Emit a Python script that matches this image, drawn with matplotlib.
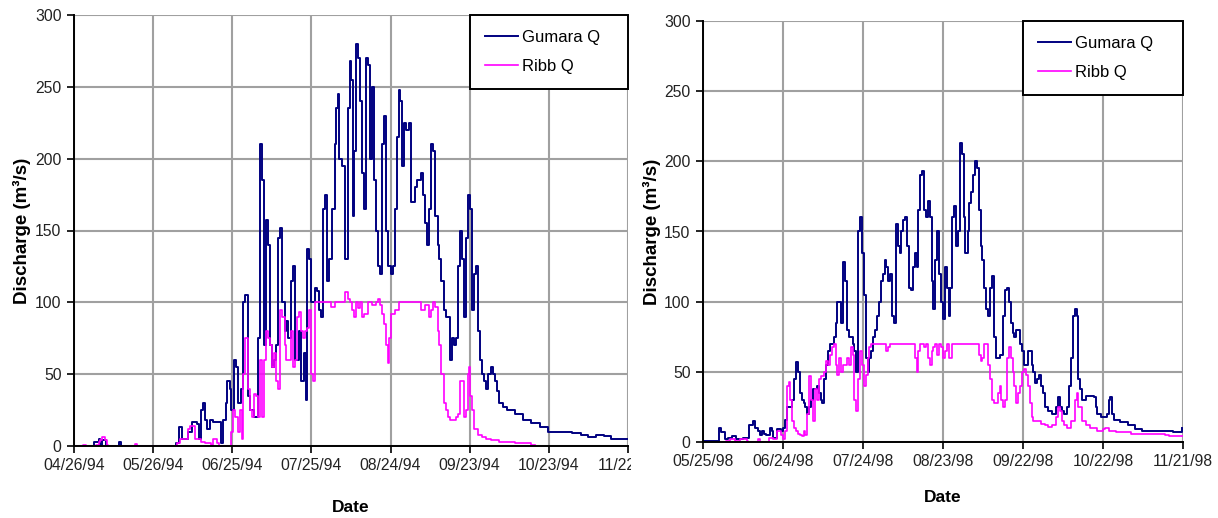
import matplotlib
matplotlib.use("Agg")
import matplotlib.pyplot as plt
from matplotlib.transforms import Bbox, TransformedBbox

plt.rcParams['font.family'] = ['Liberation Sans', 'DejaVu Sans']

# ---------------- 1994 panel (days after 04/26/94) ----------------
ticks_94 = [0, 30, 60, 90, 120, 150, 180, 210]
ticklabels_94 = ["04/26/94", "05/26/94", "06/25/94", "07/25/94", "08/24/94",
                 "09/23/94", "10/23/94", "11/22/94"]

gumara94_day = [0, 7, 7.7, 9.3, 10, 10.8, 12, 16, 17, 18, 37, 38.7, 39.8, 41, 43.3, 44.9, 46.5,
                47.5, 48, 48.8, 49.5, 50.5, 51.4, 52.6, 54.2, 55.7, 56.5, 57.5, 58, 59, 59.6,
                60.7, 61.5, 62.2, 63.2, 64.2, 65, 65.8, 66.9, 68.1, 69.7, 70.4, 71.2, 72, 72.8,
                73.5, 74.3, 75.1, 75.9, 76.6, 77.4, 78.2, 79, 79.8, 80.5, 81.3, 82.1, 82.9, 83.7,
                85.3, 86, 87, 87.9, 88.5, 89.2, 89.8, 90.6, 91.4, 92.1, 92.9, 93.7, 94.4, 95.2,
                96, 96.7, 97.8, 98.8, 99.4, 100, 100.6, 101.4, 102.2, 102.9, 103.7, 104.5, 104.9,
                105.6, 106.2, 106.8, 107.6, 108.4, 109.1, 109.9, 110.7, 111.5, 112.2, 113, 113.8,
                114.6, 115.3, 116.1, 116.9, 117.6, 118.4, 119.2, 120.3, 121.1, 121.8, 122.6,
                123.1, 123.5, 124.3, 125.1, 125.9, 127, 127.7, 128.5, 129.3, 130, 131.6, 132.4,
                133.1, 133.9, 134.7, 135.4, 136.2, 137, 137.8, 138.5, 139.3, 140.1, 140.9, 141.6,
                142.4, 143.2, 144, 144.7, 145.5, 146.3, 147.1, 147.8, 148.6, 149.4, 150.2, 150.9,
                151.7, 152.2, 153, 154, 154.8, 155.6, 156.3, 157.1, 157.9, 158.7, 159.4, 160.2,
                161, 162.5, 164, 167.2, 170.3, 173.4, 176.5, 179.6, 182.7, 185.8, 188.9, 192,
                195, 198, 201, 203.4, 210]
gumara94_q = [0, 0, 3, 5, 1, 4, 0, 0, 3, 0, 0, 2, 13, 5, 10, 17, 15,
              5, 25, 30, 18, 12, 18, 17, 17, 2, 18, 30, 45, 40, 25,
              60, 55, 30, 40, 100, 105, 35, 25, 20, 75, 210, 185, 70, 157,
              140, 70, 55, 60, 70, 145, 152, 100, 80, 87, 75, 115, 125, 60,
              80, 45, 65, 32, 137, 130, 100, 100, 110, 108, 95, 90, 165, 175,
              115, 130, 165, 210, 235, 245, 200, 195, 195, 130, 235, 268, 255,
              160, 205, 280, 270, 240, 190, 165, 270, 265, 200, 250, 185,
              150, 125, 120, 210, 230, 150, 125, 120, 125, 165, 215,
              248, 240, 195, 225, 220, 225, 170, 170, 180, 185, 190, 175,
              155, 140, 165, 210, 205, 160, 140, 130, 115, 95, 90, 90,
              60, 75, 70, 75, 125, 150, 130, 90, 145, 175, 165, 95,
              120, 125, 80, 60, 50, 45, 40, 50, 55, 50, 45, 38,
              30, 27, 25, 22, 18, 16, 13, 10, 10, 10, 9, 8,
              6, 8, 7, 5, 5]

ribb94_day = [0, 3.5, 4.5, 8.5, 9.3, 10, 10.8, 11.6, 12.4, 13, 22, 23, 24, 38.7, 39, 40.3, 43.3,
              44.1, 45.7, 48, 49.5, 51.9, 52.6, 54.2, 55, 58.8, 59.6, 60.4, 61.2, 62, 62.8,
              63.5, 64.2, 65, 65.8, 66.6, 67.4, 68.1, 68.9, 69.7, 70.4, 71.2, 72, 72.8, 73.5,
              74.3, 75.1, 75.9, 76.6, 77.4, 78.2, 79, 79.8, 80.5, 81.3, 82.1, 82.9, 83.7, 84.4,
              85.2, 86, 86.8, 87.6, 88.2, 89, 89.8, 90.6, 91.4, 92.9, 94.4, 96, 97.5, 99,
              102.2, 102.9, 103.7, 104.5, 105.3, 106, 106.8, 107.6, 108.4, 109.1, 109.9, 111.5,
              113, 114.6, 115.3, 116.1, 116.9, 117.6, 118.4, 118.9, 119.5, 120.3, 121.5, 123.1,
              127, 130.8, 131.6, 133.1, 134.7, 135.4, 136.2, 137, 137.8, 138.5, 139.3, 140.1,
              140.9, 141.6, 142.4, 144, 144.7, 145.5, 146.3, 147.1, 147.8, 148.6, 149.4, 149.8,
              150.2, 150.9, 151.7, 153.3, 154.8, 156.3, 157.9, 161, 167.2, 173.4, 174.9]
ribb94_q = [0, 1, 0, 1, 3, 4, 6, 4, 1, 0, 0, 1.5, 0, 0, 2, 5, 12,
            14, 5, 3, 2, 1, 5, 2, 0, 0, 10, 25, 20, 10, 25,
            5, 50, 75, 40, 25, 20, 36, 35, 20, 60, 20, 60, 80, 75,
            70, 55, 65, 45, 40, 95, 90, 70, 60, 60, 80, 55, 60, 90,
            93, 80, 75, 80, 82, 95, 50, 45, 100, 100, 100, 100, 97, 100,
            100, 107, 102, 100, 95, 90, 100, 96, 100, 90, 92, 100,
            98, 100, 102, 98, 92, 85, 70, 58, 75, 92, 95, 100,
            100, 100, 95, 98, 90, 95, 100, 97, 80, 70, 50, 30,
            25, 20, 18, 18, 20, 22, 45, 45, 20, 25, 50, 55,
            35, 25, 12, 8, 6, 5, 4, 3, 2, 1, 1]

# ---------------- 1998 panel (days after 05/25/98) ----------------
ticks_98 = [0, 30, 60, 90, 120, 150, 180]
ticklabels_98 = ["05/25/98", "06/24/98", "07/24/98", "08/23/98", "09/22/98",
                 "10/22/98", "11/21/98"]

gumara98_day = [0, 4.5, 5.9, 6.6, 8.1, 9.5, 10.9, 12.3, 15.1, 16.5, 17.2, 18.6, 19.4, 20.8, 21.5,
                22.2, 22.9, 23.6, 25, 25.7, 26.4, 27.8, 29.2, 29.9, 30.6, 31.4, 32.1, 32.8, 33.5,
                34.2, 34.9, 35.6, 36.3, 37, 37.7, 38.4, 39.1, 39.8, 40.5, 41.2, 41.9, 42.7, 43.4,
                44.1, 44.8, 45.5, 46.2, 46.9, 47.6, 49, 49.7, 50.4, 51.1, 51.8, 52.5, 53.2, 54,
                54.7, 55.4, 56.1, 56.8, 57.5, 58.2, 58.9, 59.6, 60.3, 61, 61.7, 62.4, 63.1, 63.8,
                64.5, 65.3, 66, 66.7, 67.4, 68.1, 68.8, 69.5, 70.2, 70.9, 71.6, 72.3, 73, 73.7,
                74.4, 75.1, 75.8, 76.6, 77.3, 78, 78.7, 79.4, 80.1, 80.8, 81.5, 82.2, 82.9, 83.6,
                84.3, 85, 85.7, 86.4, 87.1, 87.9, 88.6, 89.3, 90, 90.7, 91.4, 92.1, 92.8, 93.5,
                94.2, 94.9, 95.6, 96.3, 97, 97.7, 98.4, 99.2, 99.9, 100.6, 101.3, 102, 102.7,
                103.4, 104.1, 104.8, 105.5, 106.2, 106.9, 107.6, 108.3, 109, 109.7, 110.5, 111.2,
                112.6, 113.3, 114, 114.7, 115.4, 116.1, 116.8, 117.5, 118.2, 118.9, 119.6, 120.3,
                121, 121.8, 122.5, 123.2, 123.9, 124.6, 125.3, 126, 126.7, 127.4, 128.1, 129.5,
                130.9, 132.3, 133.1, 133.8, 134.5, 135.2, 136.6, 137.3, 138, 138.7, 139.4, 140.1,
                140.8, 141.5, 142.2, 143.6, 145.1, 146.5, 147.2, 147.9, 149.3, 150.7, 151.4,
                152.1, 152.8, 153.5, 154.2, 156.4, 159.2, 162, 164.8, 170.5, 173.3, 176.1,
                178.2, 179.7]
gumara98_q = [1, 1, 10, 7, 2, 3, 4, 2, 3, 3, 12, 15, 10, 8, 5,
              8, 6, 5, 10, 8, 3, 9, 8, 10, 16, 25, 25, 25, 30,
              45, 57, 50, 35, 30, 28, 25, 20, 25, 30, 38, 38, 40, 35,
              30, 28, 45, 55, 65, 70, 75, 85, 100, 100, 85, 128, 115, 80,
              75, 75, 70, 65, 50, 150, 160, 135, 105, 60, 50, 60, 65, 75,
              80, 90, 100, 115, 120, 130, 125, 115, 120, 90, 85, 155, 140, 135,
              150, 158, 160, 140, 110, 108, 125, 135, 125, 165, 190, 193, 165, 160,
              172, 160, 115, 95, 130, 150, 120, 100, 88, 125, 110, 90, 110, 160,
              168, 140, 150, 213, 205, 160, 135, 150, 170, 178, 190, 200, 195,
              165, 140, 130, 110, 95, 90, 110, 118, 75, 60, 60, 62,
              90, 108, 110, 100, 85, 78, 75, 80, 80, 70, 65, 55,
              55, 65, 65, 55, 50, 42, 45, 48, 40, 35, 25, 22,
              20, 25, 32, 25, 22, 20, 25, 40, 60, 90, 95, 90,
              45, 38, 30, 33, 33, 32, 25, 20, 18, 18, 20,
              30, 32, 20, 16, 14, 12, 9, 8, 8, 8, 7,
              7, 10]

ribb98_day = [8, 8.5, 10, 12, 14, 16.5, 17, 20.8, 21.5, 24.9, 26.4, 27.8, 29.2, 29.9, 30.6, 31.4,
              32.1, 32.8, 33.5, 34.2, 34.9, 35.6, 36.3, 37, 37.7, 38.4, 39.1, 39.8, 40.5, 41.2,
              41.9, 42.7, 43.4, 44.1, 44.8, 45.5, 46.2, 46.9, 47.6, 48.3, 49, 49.7, 50.4, 51.1,
              51.8, 52.5, 53.2, 54, 54.7, 55.4, 56.1, 56.8, 57.5, 58.2, 58.9, 59.6, 60.3, 61,
              61.7, 62.4, 63.1, 67.4, 68.8, 69.5, 70.2, 78.7, 79.4, 80.1, 80.8, 81.5, 82.9, 83.6,
              84.3, 85, 85.7, 86.4, 87.1, 87.9, 88.6, 89.3, 90, 90.7, 91.4, 92.1, 92.8, 93.5,
              99.9, 102.7, 103.4, 104.1, 104.8, 105.5, 106.2, 106.9, 107.6, 108.3, 109, 109.7,
              110.5, 111.2, 111.9, 112.6, 113.3, 114, 114.7, 115.4, 116.1, 116.8, 117.5, 118.2,
              118.9, 119.6, 120.3, 121, 121.8, 122.5, 123.2, 123.9, 125.3, 126.7, 128.1, 129.5,
              130.9, 132.3, 133.1, 133.8, 134.5, 135.2, 136.6, 138, 139.4, 140.1, 140.8, 142.2,
              143.6, 145.1, 147.9, 150, 150.7, 152.1, 154.9, 159.2, 160.6, 173.3, 174.7, 180]
ribb98_q = [0, 1, 2, 1, 2, 1, 0, 2, 0, 3, 2, 8, 5, 2, 8, 40,
            43, 30, 15, 10, 8, 6, 5, 4, 8, 5, 20, 47, 30, 15,
            38, 30, 45, 47, 47, 50, 58, 55, 62, 68, 70, 55, 48, 60,
            50, 55, 55, 60, 55, 68, 62, 30, 22, 45, 65, 55, 40, 48,
            60, 68, 70, 70, 65, 68, 70, 70, 60, 50, 65, 70, 68, 70,
            60, 55, 65, 68, 70, 62, 70, 68, 60, 65, 70, 60, 60, 70,
            70, 70, 62, 58, 60, 70, 70, 55, 45, 30, 28, 28,
            35, 40, 30, 25, 30, 60, 68, 60, 50, 40, 28, 35,
            40, 50, 52, 48, 40, 28, 18, 15, 15, 13, 12, 11,
            12, 18, 25, 22, 15, 12, 10, 15, 30, 35, 25, 15,
            12, 10, 8, 9, 10, 8, 7, 7, 6, 5, 4, 4]

yticks = [0, 50, 100, 150, 200, 250, 300]
NAVY = "#000080"
MAGENTA = "#FF00FF"
GRID = "#a0a0a0"

fig = plt.figure(figsize=(12.18, 5.18), dpi=100)


def style_axes(ax, xmax, xticks, xlabels):
    ax.set_xlim(0, xmax)
    ax.set_ylim(0, 300)
    ax.set_xticks(xticks)
    ax.set_xticklabels(xlabels)
    ax.set_yticks(yticks)
    ax.grid(True, color=GRID, linewidth=1.5)
    ax.set_axisbelow(True)
    for s in ("top", "right"):
        ax.spines[s].set_visible(False)
    for s in ("left", "bottom"):
        ax.spines[s].set_color("black")
        ax.spines[s].set_linewidth(1.4)
    ax.tick_params(direction="out", length=5, width=1.2, labelsize=11.3,
                   labelcolor="#222222", pad=4)


def add_legend(ax, anchor):
    leg = ax.legend(loc="upper right", bbox_to_anchor=anchor, mode="expand",
                    borderaxespad=0, fancybox=False, framealpha=1,
                    edgecolor="black", fontsize=12, handlelength=2.0,
                    handletextpad=0.2, labelspacing=0.85, borderpad=0.9)
    leg.get_frame().set_linewidth(1.4)
    return leg


# ---- left panel ----
ax1 = fig.add_axes([74 / 1218, 72 / 518, 554 / 1218, 431 / 518])
ax1.plot(gumara94_day, gumara94_q, color=NAVY, lw=1.4, drawstyle="steps-post",
         label="Gumara Q")
ax1.plot(ribb94_day, ribb94_q, color=MAGENTA, lw=1.2, drawstyle="steps-post",
         label="Ribb Q")
style_axes(ax1, 210, ticks_94, ticklabels_94)
ax1.set_xlabel("Date", fontsize=12.5, fontweight="bold", labelpad=19)
ax1.set_ylabel("Discharge (m³/s)", fontsize=13.5, fontweight="bold", labelpad=3)
add_legend(ax1, (0.715, 0.0, 0.285, 1.0))

# clip the last (cut-off) tick label at the edge of the left image
clip = TransformedBbox(Bbox([[0, 0], [631 / 1218, 1]]), fig.transFigure)
for lbl in ax1.get_xticklabels():
    lbl.set_clip_on(True)
    lbl.set_clip_box(clip)

# ---- right panel ----
ax2 = fig.add_axes([703 / 1218, 76 / 518, 480 / 1218, 421 / 518])
ax2.plot(gumara98_day, gumara98_q, color=NAVY, lw=1.4, drawstyle="steps-post",
         label="Gumara Q")
ax2.plot(ribb98_day, ribb98_q, color=MAGENTA, lw=1.2, drawstyle="steps-post",
         label="Ribb Q")
style_axes(ax2, 180, ticks_98, ticklabels_98)
ax2.set_xlabel("Date", fontsize=12.5, fontweight="bold", labelpad=15)
ax2.set_ylabel("Discharge (m³/s)", fontsize=13.5, fontweight="bold", labelpad=2)
add_legend(ax2, (0.667, 0.0, 0.333, 1.0))

fig.savefig("out.png", dpi=100)
